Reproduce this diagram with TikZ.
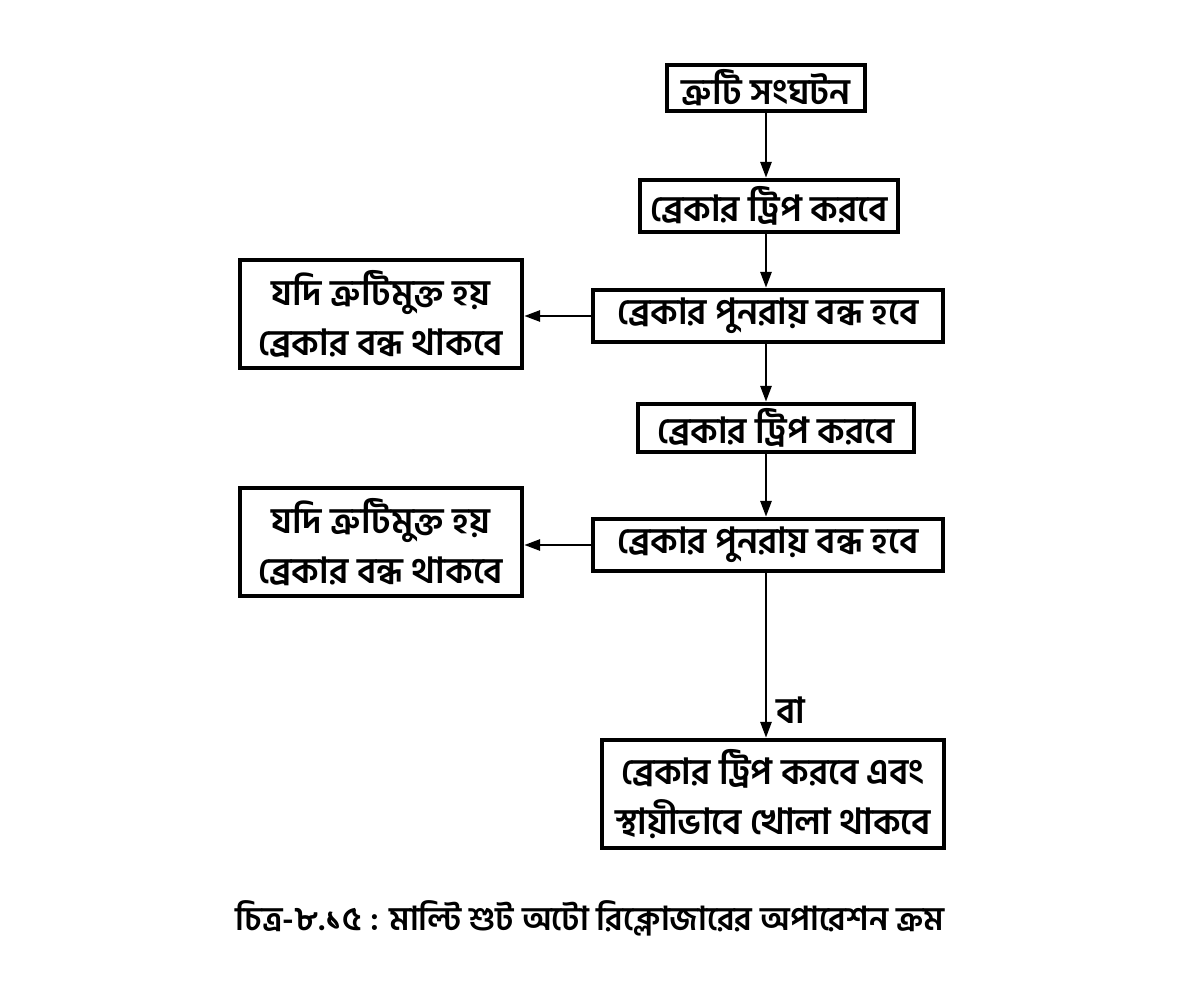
\documentclass[tikz,border=0pt]{standalone}
\usepackage{fontspec}
\setmainfont[Script=Bengali]{Hind Siliguri}
\usetikzlibrary{arrows.meta}
\begin{document}
\begin{tikzpicture}[x=0.5pt, y=-0.5pt,
            every node/.style = {font=\fontsize{18}{25}\selectfont\bfseries},
            stepbox/.style = {shape=rectangle, draw, line width=2.2pt,
                align=center, inner sep=0pt},
            arr/.style = {line width=1.4pt, -{Triangle[length=8pt, width=5.5pt]}}]

            \useasboundingbox (0,0) rectangle (1200,1000);

            % main column
            \node[stepbox, minimum width=99pt, minimum height=23pt] (fault) at (766,88) {ত্রুটি সংঘটন};
            \node[stepbox, minimum width=129pt, minimum height=26pt] (trip1) at (769,206) {ব্রেকার ট্রিপ করবে};
            \node[stepbox, minimum width=175pt, minimum height=26pt] (close1) at (768,316) {ব্রেকার পুনরায় বন্ধ হবে};
            \node[stepbox, minimum width=138pt, minimum height=24pt] (trip2) at (776,428) {ব্রেকার ট্রিপ করবে};
            \node[stepbox, minimum width=175pt, minimum height=26pt] (close2) at (768,545) {ব্রেকার পুনরায় বন্ধ হবে};
            \node[stepbox, minimum width=171pt, minimum height=54pt] (lockout) at (773,794) {ব্রেকার ট্রিপ করবে এবং\\স্থায়ীভাবে খোলা থাকবে};

            % side boxes
            \node[stepbox, minimum width=141pt, minimum height=54pt] (ok1) at (381,314) {যদি ত্রুটিমুক্ত হয়\\ব্রেকার বন্ধ থাকবে};
            \node[stepbox, minimum width=141pt, minimum height=54pt] (ok2) at (381,542) {যদি ত্রুটিমুক্ত হয়\\ব্রেকার বন্ধ থাকবে};

            \draw[arr] (fault.south) -- (fault.south |- trip1.north);
            \draw[arr] (trip1.south -| fault.south) -- (fault.south |- close1.north);
            \draw[arr] (close1.south -| fault.south) -- (fault.south |- trip2.north);
            \draw[arr] (trip2.south -| fault.south) -- (fault.south |- close2.north);
            \draw[arr] (close2.south -| fault.south) -- (fault.south |- lockout.north)
                node[pos=0.83, right=1pt] {বা};
            \draw[arr] (close1.west) -- (close1.west -| ok1.east);
            \draw[arr] (close2.west) -- (close2.west -| ok2.east);

            \node (caption) at (590,918) {\fontsize{16.5}{20}\selectfont চিত্র-৮.১৫ : মাল্টি শুট অটো রিক্লোজারের অপারেশন ক্রম};

        \end{tikzpicture}
\end{document}
